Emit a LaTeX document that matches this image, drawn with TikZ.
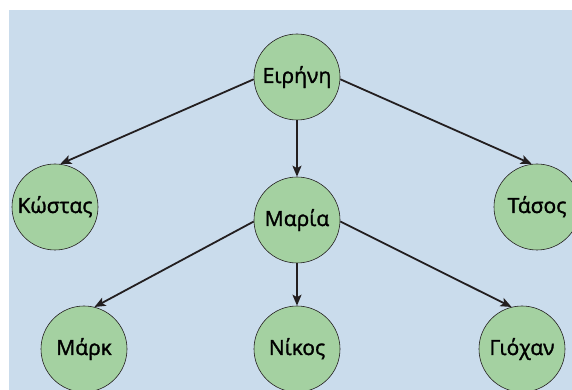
\documentclass[tikz,border=0pt]{standalone}
\usepackage{fontspec}
\setmainfont{Open Sans}
\newfontfamily\namefont{Open Sans}[FakeBold=1.5]
\usetikzlibrary{arrows.meta}
\definecolor{sky}{RGB}{202,220,236}
\definecolor{leaf}{RGB}{164,209,161}
\definecolor{ink}{RGB}{35,31,32}
\begin{document}
\begin{tikzpicture}[x=1pt,y=1pt,line width=.45pt,
  person/.style={circle,draw=ink,line width=.6pt,fill=leaf,minimum size=86pt,inner sep=0pt,
    text height=12pt,text depth=0pt,font=\namefont\fontsize{21}{24}\selectfont},
  link/.style={-{Stealth[length=11pt,width=9pt,inset=2.5pt]},line width=1.8pt,draw=ink}]
\useasboundingbox (0,0) rectangle (572,390);
\fill[sky] (9,0) rectangle (572,380);
\begin{scope}
\clip (9,0) rectangle (572,380);
\node[person] (eirini) at (297,313) {Ειρήνη};
\node[person] (kostas) at (55,183) {Κώστας};
\node[person] (maria) at (297,170) {Μαρία};
\node[person] (tasos) at (537,183) {Τάσος};
\node[person] (mark) at (84,41) {Μάρκ};
\node[person] (nikos) at (297,41) {Νίκος};
\node[person] (giochan) at (522,41) {Γιόχαν};
\draw[link] (eirini.183) -- (kostas.83);
\draw[link] (eirini.south) -- (maria.north);
\draw[link] (eirini.357) -- (tasos.97);
\draw[link] (maria.182) -- (mark.76);
\draw[link] (maria.south) -- (nikos.north);
\draw[link] (maria.358) -- (giochan.104);
\end{scope}
\end{tikzpicture}
\end{document}
